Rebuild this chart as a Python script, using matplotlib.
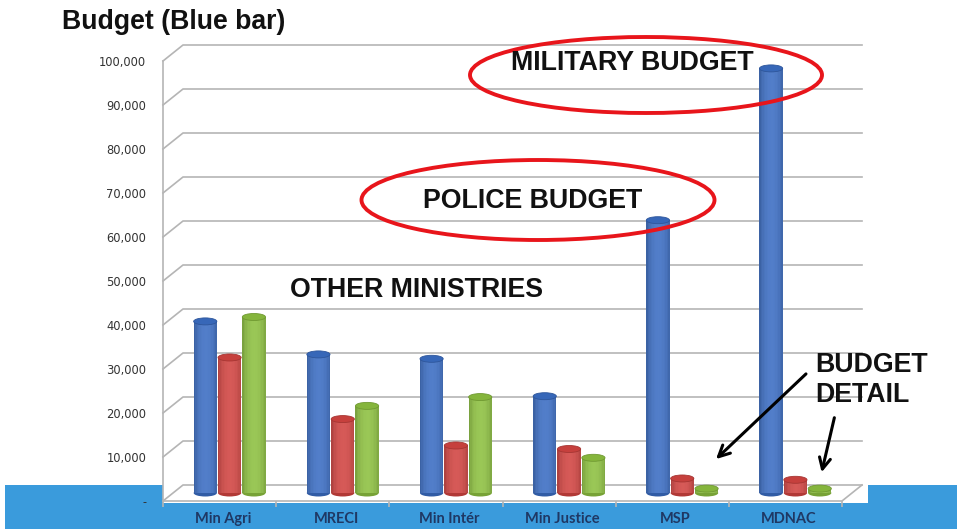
import matplotlib.pyplot as plt
import numpy as np
from matplotlib.patches import Rectangle, Ellipse
import matplotlib.colors as mcolors

# Chart data
ministries = ["Min Agri", "MRECI", "Min Intér", "Min Justice", "MSP", "MDNAC"]
budget_blue = [39000, 31500, 30500, 22000, 62000, 96500]
series_red = [30800, 16800, 10800, 10000, 3300, 3000]
series_green = [40000, 19800, 21800, 8000, 1000, 1000]
ytick_values = list(range(0, 100001, 10000))
ytick_labels = ["-"] + [f"{v:,}" for v in ytick_values[1:]]

series_colors = ["#3A6CC2", "#D04340", "#8CBF3F"]

W, H = 957, 529
fig = plt.figure(figsize=(W / 100, H / 100), dpi=100)


def fx(x):
    return x / W


def fy(y):
    return 1 - y / H


# blue strip at the bottom and white chart area above it
fig.patches.append(Rectangle((fx(5), 0), 1, fy(485), transform=fig.transFigure,
                             facecolor="#3A9BDC", edgecolor="none", zorder=0))
fig.patches.append(Rectangle((fx(163), fy(503)), fx(868) - fx(163), 1 - fy(503),
                             transform=fig.transFigure, facecolor="white",
                             edgecolor="none", zorder=0))

ax = fig.add_axes([fx(163), fy(501), 679 / W, 440 / H])
ax.set_zorder(2)
ax.set_xlim(0, len(ministries))
ax.set_ylim(0, 100000)
ax.patch.set_alpha(0)
for s in ax.spines.values():
    s.set_visible(False)

# pseudo 3D depth, in data units
px_x = len(ministries) / 679
px_y = 100000 / 440
back_dx, back_dy = 20 * px_x, 16 * px_y
bar_dx, bar_dy = 10 * px_x, 8 * px_y

grid_col = "#B5B5B5"
for v in ytick_values:
    ax.plot([0, back_dx, len(ministries) + back_dx], [v, v + back_dy, v + back_dy],
            color=grid_col, lw=1.2, clip_on=False, zorder=1)
ax.plot([0, 0], [0, 100000], color=grid_col, lw=1.2, clip_on=False, zorder=1)
ax.plot([0, len(ministries), len(ministries) + back_dx], [0, 0, back_dy],
        color=grid_col, lw=1.2, clip_on=False, zorder=1)

# ticks
ax.set_yticks(ytick_values, ytick_labels)
ax.tick_params(axis="y", length=0, pad=12, labelsize=8.3, labelcolor="#333333")
ax.set_xticks(np.arange(len(ministries)) + 0.5 + bar_dx / 3, ministries)
ax.set_xticks(np.arange(len(ministries) + 1), minor=True)
ax.tick_params(axis="x", which="major", length=0, pad=8, labelsize=10.5,
               labelcolor="#1F3864")
ax.tick_params(axis="x", which="minor", length=4, color=grid_col, width=1.2)
for lab in ax.get_xticklabels():
    lab.set_fontweight("bold")
    lab.set_family("Lato")


def shade(base, t):
    rgb = np.array(mcolors.to_rgb(base))
    dark = rgb * 0.68
    light = rgb + (1 - rgb) * 0.12
    s = np.sin(np.pi * np.clip(t * 0.9 + 0.03, 0, 1)) ** 0.45
    return dark + (light - dark) * s


def cylinder(x0, width, value, base, z):
    n = 16
    ell_h = 7 * px_y
    rgb = np.array(mcolors.to_rgb(base))
    # bottom cap
    ax.add_patch(Ellipse((x0 + width / 2, bar_dy), width, ell_h,
                         facecolor=rgb * 0.85, edgecolor="none",
                         zorder=z, clip_on=False))
    for k in range(n):
        t = (k + 0.5) / n
        ax.add_patch(Rectangle((x0 + k * width / n, bar_dy), width / n * 1.05, value,
                               facecolor=shade(base, t), edgecolor="none",
                               zorder=z, clip_on=False))
    ax.add_patch(Ellipse((x0 + width / 2, value + bar_dy), width, ell_h,
                         facecolor=rgb * 0.95, edgecolor=rgb * 0.8,
                         lw=0.6, zorder=z + 0.5, clip_on=False))


bar_w = 0.205
pitch = 0.215
all_series = [budget_blue, series_red, series_green]
for i in range(len(ministries)):
    c = i + 0.5 + bar_dx
    for j, ser in enumerate(all_series):
        xc = c + (j - 1) * pitch
        cylinder(xc - bar_w / 2, bar_w, ser[i], series_colors[j], 3 + j)

# title and annotations
font = "Liberation Sans"
fs = 19.3
fig.text(fx(62), fy(22), "Budget (Blue bar)", fontsize=19.2, fontweight="bold",
         family=font, va="center", ha="left", color="#111111")

fig.patches.append(Ellipse((fx(646), fy(75)), fx(352), 76 / H, transform=fig.transFigure,
                           facecolor="none", edgecolor="#E8151B", lw=2.8, zorder=10))
fig.patches.append(Ellipse((fx(538), fy(200)), fx(353), 80 / H, transform=fig.transFigure,
                           facecolor="none", edgecolor="#E8151B", lw=2.8, zorder=10))

fig.text(fx(632), fy(63), "MILITARY BUDGET", fontsize=fs, fontweight="bold",
         family=font, ha="center", va="center", color="#111111", zorder=11)
fig.text(fx(533), fy(201), "POLICE BUDGET", fontsize=fs, fontweight="bold",
         family=font, ha="center", va="center", color="#111111", zorder=11)
fig.text(fx(417), fy(290), "OTHER MINISTRIES", fontsize=fs, fontweight="bold",
         family=font, ha="center", va="center", color="#111111", zorder=11)
fig.text(fx(815), fy(365), "BUDGET", fontsize=fs, fontweight="bold",
         family=font, ha="left", va="center", color="#111111", zorder=11)
fig.text(fx(815), fy(395), "DETAIL", fontsize=fs, fontweight="bold",
         family=font, ha="left", va="center", color="#111111", zorder=11)

ax.annotate("", xy=(fx(714), fy(461)), xytext=(fx(808), fy(372)),
            xycoords="figure fraction", textcoords="figure fraction",
            arrowprops=dict(arrowstyle="->", color="black", lw=2.2,
                            mutation_scale=20))
ax.annotate("", xy=(fx(821), fy(475)), xytext=(fx(835), fy(415)),
            xycoords="figure fraction", textcoords="figure fraction",
            arrowprops=dict(arrowstyle="->", color="black", lw=2.2,
                            mutation_scale=20))

fig.savefig("out.png", dpi=100)
